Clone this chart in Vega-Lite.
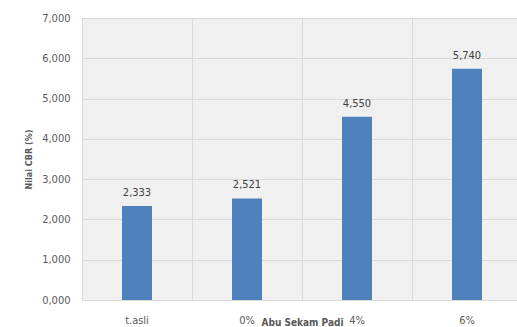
{
  "$schema": "https://vega.github.io/schema/vega-lite/v6.json",
  "width": 435,
  "height": 282,
  "autosize": {"type": "none"},
  "padding": {"left": 82, "top": 18, "right": 0, "bottom": 27},
  "background": "#ffffff",
  "data": {
    "values": [
      {"kadar": "t.asli", "cbr": 2.333},
      {"kadar": "0%", "cbr": 2.521},
      {"kadar": "4%", "cbr": 4.55},
      {"kadar": "6%", "cbr": 5.74}
    ]
  },
  "encoding": {
    "x": {
      "field": "kadar",
      "type": "nominal",
      "sort": null,
      "scale": {"range": [0, 440], "paddingInner": 0, "paddingOuter": 0},
      "axis": {
        "title": "Abu Sekam Padi",
        "titleFont": "DejaVu Sans Condensed, Liberation Sans, sans-serif",
        "titleFontSize": 10,
        "titleFontWeight": "bold",
        "titleColor": "#595959",
        "titleX": 220,
        "titleY": 25,
        "titleBaseline": "alphabetic",
        "labelAngle": 0,
        "labelFont": "DejaVu Sans Condensed, Liberation Sans, sans-serif",
        "labelFontSize": 11,
        "labelColor": "#595959",
        "labelPadding": 14,
        "ticks": false,
        "domain": false,
        "grid": true,
        "bandPosition": 0,
        "gridColor": "#d9d9d9",
        "gridWidth": 1
      }
    },
    "y": {
      "field": "cbr",
      "type": "quantitative",
      "scale": {"domain": [0, 7], "nice": false},
      "axis": {
        "title": "Nilai CBR (%)",
        "titleFont": "DejaVu Sans Condensed, Liberation Sans, sans-serif",
        "titleFontSize": 9,
        "titleFontWeight": "bold",
        "titleColor": "#595959",
        "titleX": -54,
        "titleY": 141,
        "titleAngle": -90,
        "titleAlign": "center",
        "titleBaseline": "middle",
        "values": [0, 1, 2, 3, 4, 5, 6, 7],
        "format": ".3f",
        "labelFont": "DejaVu Sans Condensed, Liberation Sans, sans-serif",
        "labelFontSize": 11,
        "labelColor": "#595959",
        "labelPadding": 12,
        "ticks": false,
        "domain": false,
        "grid": true,
        "gridColor": "#d9d9d9",
        "gridWidth": 1
      }
    }
  },
  "layer": [
    {
      "mark": {"type": "bar", "width": 30, "color": "#4f81bd"}
    },
    {
      "mark": {
        "type": "text",
        "baseline": "bottom",
        "dy": -8,
        "font": "DejaVu Sans Condensed, Liberation Sans, sans-serif",
        "fontSize": 11,
        "color": "#404040"
      },
      "encoding": {
        "text": {"field": "cbr", "type": "quantitative", "format": ".3f"}
      }
    }
  ],
  "config": {
    "view": {"stroke": null, "fill": "#f0f0f0"},
    "locale": {
      "number": {
        "decimal": ",",
        "thousands": ".",
        "grouping": [3],
        "currency": ["Rp", ""]
      }
    }
  }
}
